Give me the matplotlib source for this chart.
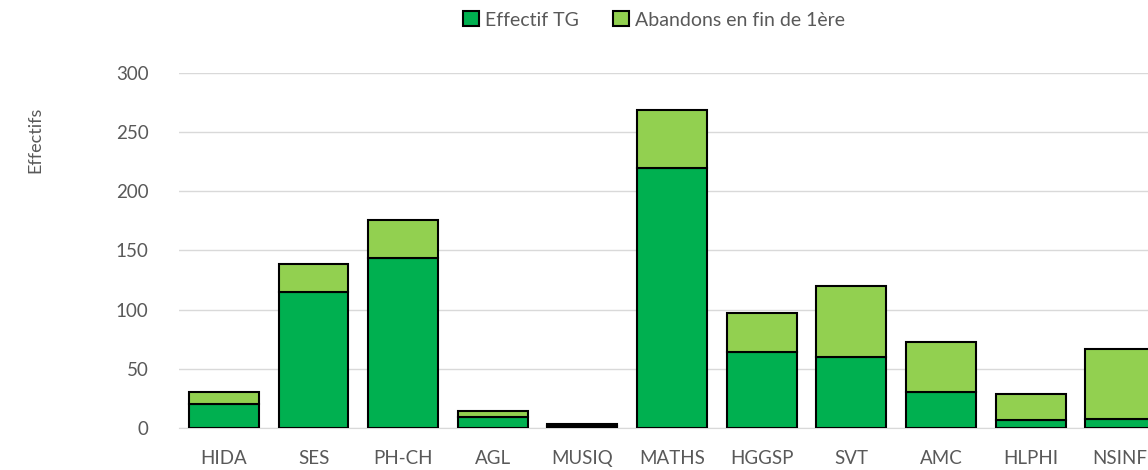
import matplotlib.pyplot as plt
import numpy as np

plt.rcParams['font.family'] = ['Lato', 'DejaVu Sans']

# data
matieres = ['HIDA', 'SES', 'PH-CH', 'AGL', 'MUSIQ', 'MATHS', 'HGGSP', 'SVT', 'AMC', 'HLPHI', 'NSINF']
effectif_tg = [20, 115, 144, 9, 2, 220, 64, 60, 30, 7, 8]
abandons = [10, 24, 32, 5, 1, 49, 33, 60, 43, 22, 59]

fig = plt.figure(figsize=(11.48, 4.7), dpi=100)
ax = fig.add_axes([0.156, 0.0894, 0.844, 0.7553])

x = np.arange(len(matieres))
ax.bar(x, effectif_tg, width=0.78, color='#00B050', edgecolor='black', linewidth=1.5,
       label='Effectif TG', zorder=3)
ax.bar(x, abandons, width=0.78, bottom=effectif_tg, color='#92D050', edgecolor='black',
       linewidth=1.5, label='Abandons en fin de 1ère', zorder=3)

ax.set_xlim(-0.5, 10.31)
ax.set_ylim(0, 300)
ax.set_yticks(range(0, 301, 50))
ax.set_xticks(x)
ax.set_xticklabels(matieres)
ax.grid(axis='y', color='#D9D9D9', linewidth=1, zorder=0)
for s in ['top', 'right', 'left']:
    ax.spines[s].set_visible(False)
ax.spines['bottom'].set_color('#D9D9D9')
ax.tick_params(axis='both', length=0, labelsize=13.5, colors='#595959')
ax.tick_params(axis='x', pad=16)
ax.tick_params(axis='y', pad=22)

fig.text(35/1148, 1 - 140/470, 'Effectifs', rotation=90, ha='center', va='center',
         fontsize=13, color='#595959')

fig.legend(loc='center', bbox_to_anchor=(654/1148, 1 - 20/470), ncol=2, frameon=False,
           fontsize=14, labelcolor='#595959', handlelength=0.8, handleheight=0.8,
           handletextpad=0.3, columnspacing=1.8)

fig.savefig('out.png', dpi=100)
